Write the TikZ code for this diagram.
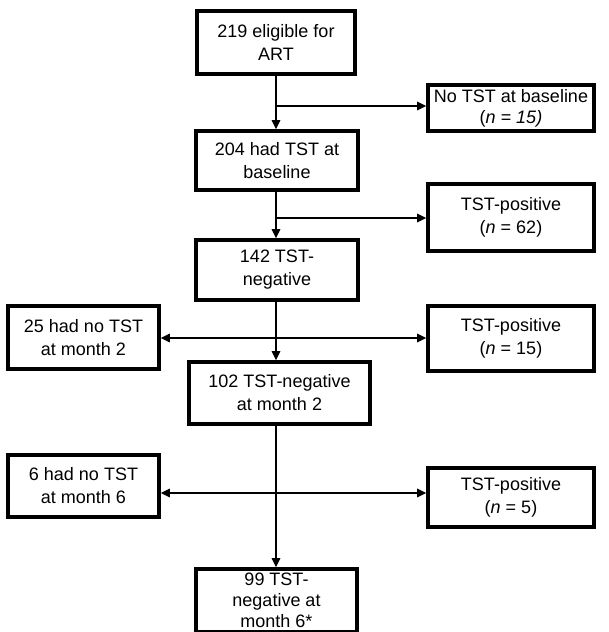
\documentclass[tikz,border=0pt]{standalone}
\usepackage{fontspec}
\setmainfont{Liberation Sans}
\usetikzlibrary{arrows.meta}
\begin{document}
\begin{tikzpicture}[x=1pt,y=-1pt,
  box/.style={draw=black,line width=3.6pt,fill=white,align=center,inner sep=0pt,
    font=\fontsize{18}{23}\selectfont},
  tight/.style={font=\fontsize{18}{21}\selectfont},
  arr/.style={line width=1.3pt,-{Triangle[length=9pt,width=8.5pt]}},
  ln/.style={line width=1.3pt}]
\useasboundingbox (0,0) rectangle (609,632);
\fill[white] (0,0) rectangle (609,632);
% main column
\node[box,minimum width=158pt,minimum height=63pt] (b1) at (276,42.5) {219 eligible for\\ART};
\node[box,minimum width=162pt,minimum height=59pt] (b204) at (277,160.5) {204 had TST at\\baseline};
\node[box,minimum width=162pt,minimum height=60pt] (b142) at (277,270) {142 TST-\\negative};
\node[box,minimum width=181pt,minimum height=62pt] (b102) at (279.5,393) {102 TST-negative\\at month 2};
\node[box,tight,minimum width=161pt,minimum height=63pt] (b99) at (276.5,600.5) {99 TST-\\negative at\\month 6*};
% side boxes
\node[box,tight,minimum width=166pt,minimum height=46pt] (nobase) at (511,108) {No TST at baseline\\(\textit{n = 15)}};
\node[box,minimum width=166pt,minimum height=67pt] (pos62) at (511,217.5) {TST-positive\\(\textit{n} = 62)};
\node[box,minimum width=151pt,minimum height=63pt] (no2) at (83.5,337.5) {25 had no TST\\at month 2};
\node[box,minimum width=166pt,minimum height=65pt] (pos15) at (511,338.5) {TST-positive\\(\textit{n} = 15)};
\node[box,minimum width=151pt,minimum height=62pt] (no6) at (83.5,486) {6 had no TST\\at month 6};
\node[box,minimum width=166pt,minimum height=59pt] (pos5) at (511,497.5) {TST-positive\\(\textit{n} = 5)};
% junctions on the spine
\coordinate (j1) at (276,106);
\coordinate (j2) at (276,218);
\coordinate (j3) at (276,338);
\coordinate (j4) at (276,493);
% vertical connectors
\draw[arr] (j1 |- b1.south) -- (j1 |- b204.north);
\draw[arr] (j2 |- b204.south) -- (j2 |- b142.north);
\draw[arr] (j3 |- b142.south) -- (j3 |- b102.north);
\draw[arr] (j4 |- b102.south) -- (j4 |- b99.north);
% horizontal connectors
\draw[arr] (j1) -- (j1 -| nobase.west);
\draw[arr] (j2) -- (j2 -| pos62.west);
\draw[arr] (j3) -- (j3 -| pos15.west);
\draw[arr] (j3) -- (j3 -| no2.east);
\draw[arr] (j4) -- (j4 -| pos5.west);
\draw[arr] (j4) -- (j4 -| no6.east);
\end{tikzpicture}
\end{document}
